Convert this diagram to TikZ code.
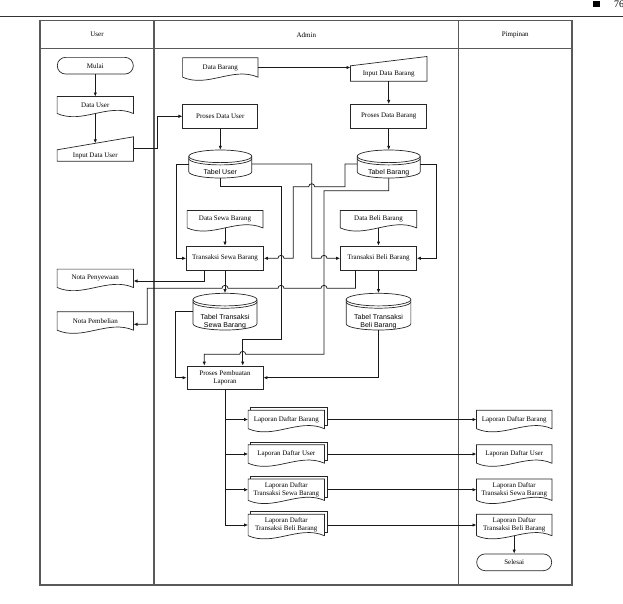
\documentclass[tikz,border=0pt]{standalone}
\usepackage{fontspec}
\setmainfont{Liberation Serif}
\newfontfamily\dbfont{Liberation Sans}
\usetikzlibrary{calc,arrows.meta}

% text lowered inside a node without changing the node's size
\newcommand\lowered[2]{\raisebox{-#1}[0pt][0pt]{#2}}

\tikzset{
  lane/.style={draw=black!65, line width=1.1pt},
  outline/.style={draw=black!85, line width=0.7pt},
  wire/.style={draw=black!90, line width=0.75pt},
  flow/.style={wire, -{Latex[length=4pt,width=3.4pt]}},
  txt/.style={font=\fontsize{7}{8.3}\selectfont},
  plain/.style={rectangle, draw=none, inner sep=0pt, txt, align=center},
  box/.style={rectangle, outline, inner sep=0pt, txt, align=center,
              minimum width=76pt, minimum height=24pt},
  term/.style={box, rounded corners=8.3pt, minimum height=16.7pt},
  dbbox/.style={rectangle, draw=none, inner sep=0pt,
                font=\dbfont\fontsize{7}{8.3}\selectfont},
}

% document symbol: straight top and sides, wavy bottom
\newcommand\docoutline[1]{%
  \draw[outline] (#1.south west) -- (#1.north west) -- (#1.north east) -- (#1.south east)
    .. controls ($(#1.south east)!0.33!(#1.south west)+(0,-11)$)
       and ($(#1.south east)!0.67!(#1.south west)+(0,11)$) .. (#1.south west);}
% #1 name, #2 position, #3 width, #4 height, #5 text
\newcommand\docnode[5]{%
  \node[plain, minimum width=#3pt, minimum height=#4pt] (#1) at #2 {#5};
  \docoutline{#1}}
% stacked documents
\newcommand\multidocnode[5]{%
  \docnode{#1}{#2}{#3}{#4}{#5}
  \draw[outline] ($(#1.north west)+(2.5,0)$) -- ++(0,-2.5)
    -- ($(#1.north east)+(2.5,-2.5)$) -- ($(#1.south east)+(2.5,-3)$)
    -- ($(#1.south east)+(0,-3)$);}
% manual input: #1 name, #2 position, #3 width, #4 height, #5 rise of the slanted top, #6 text
\newcommand\inputnode[6]{%
  \node[plain, minimum width=#3pt, minimum height=#4pt] (#1) at #2 {#6};
  \draw[outline] (#1.north west) -- ($(#1.north east)+(0,-#5)$)
    -- (#1.south east) -- (#1.south west) -- cycle;}
% database cylinder: #1 name, #2 x centre, #3 top, #4 bottom, #5 width, #6 text drop, #7 text
\newcommand\dbnode[7]{%
  \pgfmathsetmacro\dbmid{(#3+#4)/2}%
  \pgfmathsetmacro\dbrx{#5/2}%
  \pgfmathsetmacro\dbl{#2-#5/2}%
  \pgfmathsetmacro\dbr{#2+#5/2}%
  \pgfmathsetmacro\dbu{#3+6.3}%
  \pgfmathsetmacro\dbuu{#3+8.6}%
  \pgfmathsetmacro\dbd{#4-6.3}%
  \node[dbbox, minimum width=#5pt, minimum height=#4pt-#3pt] (#1) at (#2,\dbmid) {\lowered{#6}{#7}};
  \draw[outline] (#2,\dbu) ellipse[x radius=\dbrx pt, y radius=6.3pt];
  \draw[outline] (\dbl,\dbuu) arc[start angle=180, end angle=360, x radius=\dbrx pt, y radius=6.3pt];
  \draw[outline] (\dbl,\dbu) -- (\dbl,\dbd)
    arc[start angle=180, end angle=360, x radius=\dbrx pt, y radius=6.3pt] -- (\dbr,\dbu);}

\begin{document}
\begin{tikzpicture}[x=1pt, y=-1pt]
\useasboundingbox (0,0) rectangle (623,603);
\clip (0,0) rectangle (623,603);

% page header
\draw[black!80, line width=1.2pt] (0,16.7) -- (623,16.7);
\fill[black] (593,0.5) rectangle (600,7);
\node[anchor=base west, inner sep=0pt, font=\fontsize{10}{12}\selectfont] (pagenum) at (614,7.5) {76};

% swimlanes
\draw[lane] (40,20.7) rectangle (572,585);
\draw[lane] (40,48.6) -- (572,48.6);
\draw[lane] (154,20.7) -- (154,585);
\draw[lane] (458.5,20.7) -- (458.5,585);
\node[plain] (laneuser) at (97,34.7) {User};
\node[plain] (laneadmin) at (306.3,34.7) {Admin};
\node[plain] (lanepimpinan) at (515.3,34.7) {Pimpinan};

% user lane
\node[term] (mulai) at (95.3,65.7) {Mulai};
\docnode{datauser}{(95.3,105)}{76}{16.6}{Data User}
\inputnode{inuser}{(95.3,155.5)}{76}{11}{13}{Input Data User}
\docnode{notasewa}{(95.3,278.3)}{76}{18}{Nota Penyewaan}
\docnode{notabeli}{(95.3,321)}{76}{18}{Nota Pembelian}

% admin lane
\docnode{databarang}{(220.3,67.5)}{75}{19}{Data Barang}
\inputnode{inbarang}{(388.7,73.5)}{76}{15}{9.3}{Input Data Barang}
\node[box, minimum width=75pt] (pdu) at (220.3,116.3) {Proses Data User};
\node[box] (pdb) at (388.7,116.3) {Proses Data Barang};
\dbnode{tuser}{220.3}{150}{178}{63}{10.5pt}{Tabel User}
\dbnode{tbarang}{388.7}{150}{178}{63}{10.5pt}{Tabel Barang}
\docnode{dsewa}{(225,219.2)}{75.4}{17}{Data Sewa Barang}
\docnode{dbeli}{(378.5,219.2)}{76}{17}{Data Beli Barang}
\node[box, minimum width=77pt, minimum height=24.6pt] (tsewa) at (225,258.3) {Transaksi Sewa Barang};
\node[box, minimum height=24.6pt] (tbeli) at (378.5,258.3) {Transaksi Beli Barang};
\dbnode{ttsewa}{225}{293.3}{330}{64}{11.8pt}{\begin{tabular}{@{}c@{}}Tabel Transaksi\\Sewa Barang\end{tabular}}
\dbnode{ttbeli}{378.5}{293.3}{330}{64.7}{11.8pt}{\begin{tabular}{@{}c@{}}Tabel Transaksi\\Beli Barang\end{tabular}}
\node[box, minimum height=23.4pt] (ppl) at (225,377.7) {Proses Pembuatan\\Laporan};
\multidocnode{ldbarang}{(286.3,419.5)}{76}{18}{Laporan Daftar Barang}
\multidocnode{lduser}{(286.3,454)}{76}{18}{Laporan Daftar User}
\multidocnode{ldsewa}{(286.3,489.7)}{76}{21}{Laporan Daftar\\Transaksi Sewa Barang}
\multidocnode{ldbeli}{(286.3,525)}{76}{21}{Laporan Daftar\\Transaksi Beli Barang}

% pimpinan lane
\docnode{pldbarang}{(514.2,419.5)}{75}{18}{Laporan Daftar Barang}
\docnode{plduser}{(514.2,454)}{75}{18}{Laporan Daftar User}
\docnode{pldsewa}{(514.2,489.7)}{75}{21}{Laporan Daftar\\Transaksi Sewa Barang}
\docnode{pldbeli}{(514.2,525)}{75}{21}{Laporan Daftar\\Transaksi Beli Barang}
\node[term, minimum width=75pt] (selesai) at (514.2,562.3) {Selesai};

% user lane flow
\draw[flow] (mulai) -- (datauser);
\draw[flow] (datauser.south) -- ($(inuser.north)+(0,-6.5)$);
\draw[flow] ($(inuser.north east)+(0,-1)$) -- ++(24,0) |- (pdu.west);

% master data
\draw[flow] (databarang.east) -- (databarang.east -| inbarang.west);
\draw[flow] (inbarang.south) -- (pdb.north);
\draw[flow] (pdu.south) -- (tuser.north);
\draw[flow] (pdb.south) -- (tbarang.north);

% tables feeding the transactions
\draw[flow] (tuser.west) -- (176,164) -- (176,258.3) -- (tsewa.west);
\draw[flow] (tuser.east) -- (311.7,164) -- (311.7,258.3) -- (321,258.3)
  arc[start angle=180, end angle=0, radius=3pt] -- (tbeli.west);
\draw[flow] (tbarang.west) -- (345,164) -- (345,186.7) -- (314.7,186.7)
  arc[start angle=0, end angle=180, radius=3pt] -- (293.3,186.7) -- (293.3,258.3)
  -- (284,258.3) arc[start angle=0, end angle=180, radius=3pt] -- (tsewa.east);
\draw[flow] (tbarang.east) -- (436.7,164) -- (436.7,258.3) -- (tbeli.east);
\draw[flow] (dsewa.south) -- (tsewa.north);
\draw[flow] (dbeli.south) -- (tbeli.north);

% transactions
\draw[flow] (tsewa.south) -- (ttsewa.north);
\draw[flow] (tbeli.south) -- (ttbeli.north);
\draw[flow] ([xshift=-21pt]tsewa.south) |- ($(notasewa.east)+(0,2.7)$);
\draw[flow] ([xshift=-23pt]tbeli.south) -- (355.5,288.3) -- (327,288.3)
  arc[start angle=0, end angle=180, radius=3pt] -- (284,288.3)
  arc[start angle=0, end angle=180, radius=3pt] -- (228,288.3)
  arc[start angle=0, end angle=180, radius=3pt] -- (147.3,288.3)
  |- ($(notabeli.east)+(0,3.3)$);

% report generation inputs
\draw[flow] (tuser.south) -- (220.3,186.7) -- (281,186.7) -- (281,339.3) -- (242.7,339.3)
  -- ([xshift=17.7pt]ppl.north);
\draw[flow] (tbarang.south) -- (388.7,190.7) -- (324,190.7) -- (324,354.3) -- (245.7,354.3)
  arc[start angle=0, end angle=180, radius=3pt] -- (204.3,354.3) -- ([xshift=-20.7pt]ppl.north);
\draw[flow] (ttsewa.west) -- (175,311.65) -- (175,377.7) -- (ppl.west);
\draw[flow] (ttbeli.south) |- (ppl.east);

% reports
\draw[flow] (ppl.south) |- (ldbarang.west);
\draw[flow] (ppl.south) |- (lduser.west);
\draw[flow] (ppl.south) |- (ldsewa.west);
\draw[flow] (ppl.south) |- (ldbeli.west);
\draw[flow] ($(ldbarang.east)+(2.5,0)$) -- (pldbarang.west);
\draw[flow] ($(lduser.east)+(2.5,0)$) -- (plduser.west);
\draw[flow] ($(ldsewa.east)+(2.5,0)$) -- (pldsewa.west);
\draw[flow] ($(ldbeli.east)+(2.5,0)$) -- (pldbeli.west);
\draw[flow] (pldbeli.south) -- (selesai.north);
\end{tikzpicture}
\end{document}
